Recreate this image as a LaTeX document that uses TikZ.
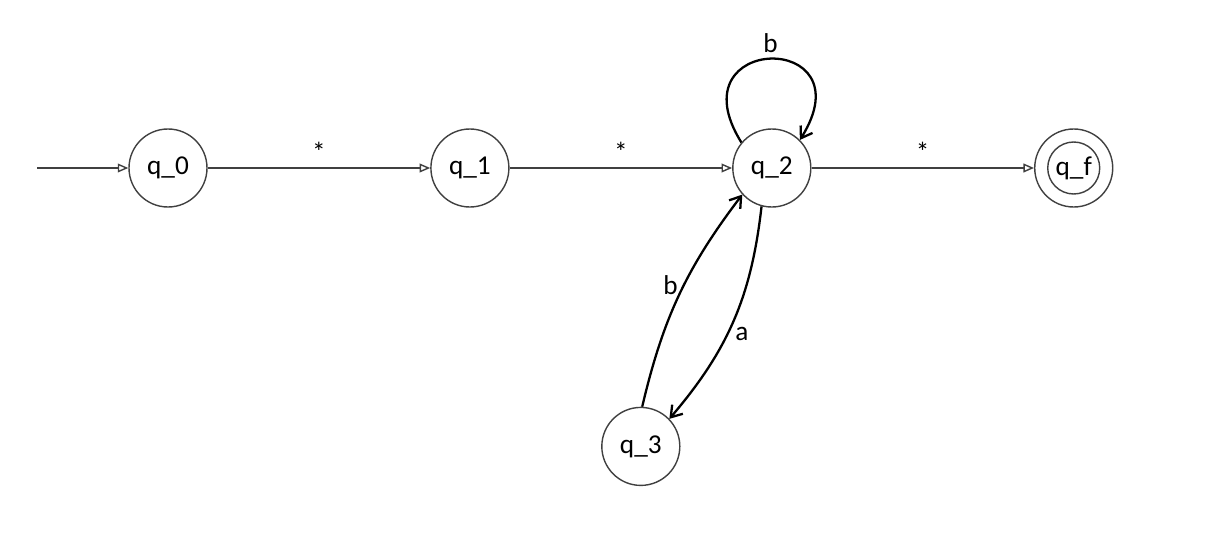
\documentclass[tikz,border=0pt]{standalone}
\usepackage{fontspec}
\setmainfont{Carlito}
\usetikzlibrary{positioning, arrows.meta}

\begin{document}
\begin{tikzpicture}[
      node distance=4.45cm,
      every node/.style={font=\fontsize{15.5}{18}\selectfont},
      state/.style={circle, draw=black!75, line width=0.8pt, minimum size=1.56cm, inner sep=0pt},
      final/.style={state, path picture={\draw[black!75, line width=0.8pt] (path picture bounding box.center) circle (0.52cm);}},
      edge/.style={draw=black!75, line width=0.8pt, -{Triangle[open, length=6pt, width=5pt]}},
      curve/.style={line width=1.3pt, -{Straight Barb[length=6pt, width=8pt, line width=1.3pt]}},
      lbl/.style={inner sep=3pt}
    ]
    \useasboundingbox (0,0) rectangle (24.6,10.7);
    \node[state] (q0) at (3.36,7.34) {q\_0};
    \node[state, right=of q0] (q1) {q\_1};
    \node[state, right=of q1] (q2) {q\_2};
    \node[final, right=of q2] (qf) {q\_f};
    \node[state, below=3.98cm of q2, xshift=-2.62cm] (q3) {q\_3};
    \coordinate[left=1.82cm of q0] (start);

    \draw[edge] (start) -- (q0);
    \draw[edge] (q0) -- node[above]{*} (q1);
    \draw[edge] (q1) -- node[above]{*} (q2);
    \draw[edge] (q2) -- node[above]{*} (qf);
    \draw[curve] (q2.140) to[out=122, in=58, looseness=5.65] node[above, lbl]{b} (q2.45);
    \draw[curve] (q3.88) to[bend left=12] node[left, lbl, pos=0.55]{b} (q2.222);
    \draw[curve] (q2.255) to[bend left=17] node[right, inner sep=4pt, pos=0.57]{a} (q3.44);
  \end{tikzpicture}
\end{document}
